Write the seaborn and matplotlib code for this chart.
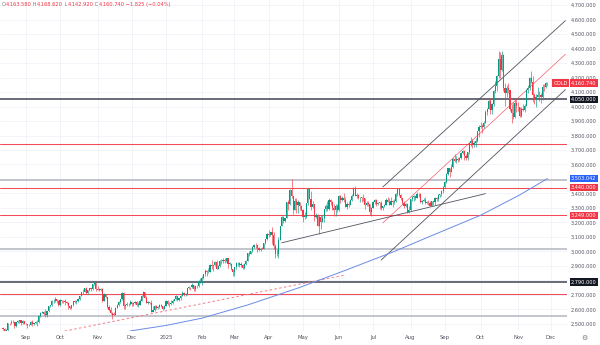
import numpy as np
import pandas as pd
import matplotlib
matplotlib.use("Agg")
import matplotlib.pyplot as plt
import seaborn as sns

# ---------------- data (daily GOLD spot, Aug 13 2024 .. Nov 27 2025) ----------------
first_open = 2472
closes = [
    # Aug 2024
    2465, 2448, 2456, 2508, 2504, 2514, 2512, 2485, 2512, 2518, 2525, 2504, 2521, 2503,
    # Sep 2024
    2500, 2493, 2495, 2516, 2497, 2506, 2516, 2512, 2558, 2578, 2582, 2570, 2559, 2587, 2622, 2628, 2657, 2657, 2672, 2658, 2634,
    # Oct 2024
    2663, 2659, 2656, 2653, 2644, 2622, 2608, 2631, 2657, 2649, 2662, 2674, 2693, 2721, 2720, 2748, 2715, 2736, 2747, 2743, 2774, 2788, 2743,
    # Nov 2024
    2736, 2736, 2743, 2659, 2706, 2685, 2618, 2598, 2573, 2565, 2563, 2612, 2631, 2650, 2670, 2715, 2625, 2633, 2637, 2639, 2650,
    # Dec 2024
    2640, 2643, 2650, 2632, 2633, 2660, 2694, 2718, 2680, 2648, 2652, 2646, 2586, 2594, 2622, 2612, 2617, 2634, 2621, 2606, 2624,
    # Jan 2025
    2658, 2640, 2637, 2648, 2662, 2670, 2690, 2663, 2677, 2696, 2715, 2702, 2708, 2745, 2755, 2754, 2770, 2740, 2763, 2759, 2794, 2798,
    # Feb 2025
    2815, 2842, 2866, 2856, 2861, 2908, 2898, 2904, 2928, 2882, 2898, 2935, 2933, 2939, 2936, 2952, 2915, 2916, 2876, 2858,
    # Mar 2025
    2893, 2918, 2920, 2910, 2910, 2889, 2916, 2934, 2988, 2984, 3001, 3034, 3048, 3044, 3023, 3011, 3020, 3019, 3057, 3085, 3123,
    # Apr 2025
    3113, 3134, 3114, 3037, 2982, 2983, 3082, 3175, 3237, 3211, 3229, 3342, 3327, 3424, 3381, 3288, 3349, 3319, 3343, 3317, 3288,
    # May 2025
    3239, 3240, 3333, 3431, 3365, 3306, 3325, 3236, 3249, 3178, 3240, 3203, 3230, 3290, 3314, 3295, 3357, 3342, 3301, 3288, 3317, 3289,
    # Jun 2025
    3381, 3353, 3372, 3353, 3310, 3325, 3322, 3354, 3386, 3432, 3384, 3388, 3369, 3370, 3368, 3368, 3323, 3332, 3327, 3274, 3303,
    # Jul 2025
    3338, 3357, 3326, 3337, 3336, 3302, 3313, 3324, 3355, 3343, 3324, 3347, 3339, 3350, 3397, 3431, 3387, 3368, 3337, 3314, 3326, 3275, 3289,
    # Aug 2025
    3363, 3373, 3380, 3368, 3397, 3398, 3341, 3348, 3356, 3336, 3336, 3332, 3315, 3348, 3339, 3372, 3365, 3393, 3397, 3416, 3448,
    # Sep 2025
    3476, 3533, 3578, 3545, 3586, 3636, 3625, 3641, 3634, 3643, 3679, 3690, 3659, 3643, 3685, 3746, 3764, 3736, 3749, 3760, 3833, 3858,
    # Oct 2025
    3866, 3857, 3886, 3960, 3985, 4040, 3976, 4018, 4110, 4142, 4208, 4326, 4250, 4356, 4125, 4095, 4126, 4112, 3982, 3952, 3930, 4025, 4002,
    # Nov 2025
    4000, 3932, 3980, 3977, 4001, 4116, 4128, 4195, 4172, 4080, 4045, 4067, 4078, 4078, 4065, 4135, 4132, 4163.58, 4160.74,
]
highs = [
    2480, 2473, 2464, 2510, 2510, 2531, 2525, 2514, 2517, 2525, 2531, 2526, 2528, 2524,
    2507, 2503, 2503, 2523, 2529, 2509, 2519, 2530, 2560, 2582, 2590, 2589, 2600, 2593, 2625, 2633, 2664, 2670, 2685, 2672, 2664,
    2673, 2667, 2668, 2670, 2657, 2651, 2625, 2633, 2662, 2667, 2664, 2677, 2696, 2722, 2740, 2749, 2758, 2737, 2748, 2748, 2776, 2790, 2790,
    2761, 2750, 2750, 2749, 2711, 2709, 2686, 2628, 2618, 2583, 2580, 2614, 2639, 2660, 2674, 2721, 2721, 2640, 2652, 2647, 2665,
    2652, 2651, 2658, 2656, 2651, 2669, 2697, 2726, 2721, 2690, 2661, 2653, 2664, 2626, 2628, 2630, 2622, 2639, 2638, 2624, 2630,
    2664, 2665, 2650, 2665, 2670, 2675, 2698, 2690, 2680, 2697, 2725, 2722, 2711, 2746, 2763, 2758, 2785, 2772, 2764, 2770, 2800, 2817,
    2830, 2845, 2882, 2872, 2886, 2912, 2942, 2908, 2935, 2944, 2906, 2938, 2947, 2955, 2954, 2956, 2951, 2930, 2923, 2882,
    2894, 2928, 2930, 2926, 2930, 2915, 2920, 2940, 2990, 3005, 3003, 3038, 3049, 3057, 3048, 3034, 3023, 3033, 3060, 3087, 3128,
    3149, 3136, 3168, 3136, 3055, 3020, 3099, 3176, 3245, 3245, 3233, 3343, 3358, 3430, 3500, 3386, 3368, 3371, 3353, 3330, 3320,
    3296, 3269, 3334, 3436, 3435, 3414, 3345, 3326, 3265, 3256, 3252, 3253, 3250, 3295, 3325, 3345, 3366, 3365, 3350, 3325, 3330, 3325,
    3392, 3392, 3385, 3403, 3375, 3338, 3349, 3360, 3398, 3446, 3451, 3403, 3395, 3376, 3373, 3398, 3368, 3347, 3350, 3328, 3308,
    3350, 3365, 3365, 3342, 3343, 3345, 3317, 3331, 3368, 3374, 3366, 3377, 3353, 3361, 3402, 3434, 3439, 3397, 3372, 3345, 3334, 3334, 3315,
    3365, 3385, 3390, 3385, 3409, 3400, 3404, 3358, 3369, 3375, 3348, 3358, 3345, 3351, 3351, 3379, 3376, 3394, 3398, 3423, 3454,
    3489, 3540, 3578, 3563, 3600, 3646, 3674, 3657, 3650, 3655, 3686, 3703, 3697, 3670, 3686, 3749, 3791, 3776, 3760, 3782, 3834, 3872,
    3895, 3876, 3897, 3977, 3990, 4059, 4059, 4022, 4116, 4179, 4218, 4380, 4378, 4382, 4359, 4161, 4146, 4161, 4094, 4019, 4030, 4046, 4055,
    4030, 4000, 3995, 4020, 4019, 4124, 4150, 4205, 4245, 4211, 4095, 4083, 4132, 4110, 4096, 4155, 4157, 4170, 4168.62,
]
lows = [
    2458, 2440, 2433, 2455, 2492, 2498, 2506, 2472, 2476, 2505, 2507, 2496, 2500, 2497,
    2493, 2472, 2485, 2491, 2486, 2491, 2500, 2486, 2510, 2551, 2574, 2563, 2546, 2551, 2585, 2614, 2627, 2645, 2653, 2644, 2625,
    2625, 2647, 2642, 2633, 2636, 2606, 2603, 2604, 2627, 2643, 2640, 2654, 2667, 2695, 2704, 2718, 2709, 2709, 2725, 2731, 2735, 2770, 2730,
    2733, 2725, 2725, 2652, 2656, 2676, 2610, 2589, 2566, 2536, 2560, 2563, 2608, 2624, 2643, 2668, 2605, 2605, 2623, 2626, 2633,
    2622, 2624, 2636, 2624, 2614, 2629, 2658, 2689, 2677, 2643, 2637, 2639, 2583, 2583, 2592, 2601, 2606, 2611, 2615, 2597, 2606,
    2622, 2633, 2614, 2630, 2640, 2656, 2666, 2657, 2660, 2668, 2692, 2696, 2695, 2701, 2740, 2733, 2750, 2730, 2731, 2750, 2755, 2780,
    2772, 2812, 2834, 2834, 2853, 2860, 2880, 2864, 2898, 2878, 2880, 2891, 2915, 2919, 2918, 2929, 2889, 2906, 2873, 2833,
    2832, 2882, 2903, 2895, 2896, 2880, 2881, 2904, 2932, 2971, 2983, 2997, 3022, 3024, 2999, 3001, 3004, 3014, 3016, 3054, 3076,
    3100, 3105, 3054, 3015, 2957, 2970, 2956, 3079, 3174, 3195, 3205, 3228, 3284, 3320, 3366, 3261, 3287, 3266, 3268, 3284, 3277,
    3202, 3221, 3229, 3323, 3360, 3287, 3297, 3207, 3228, 3173, 3121, 3154, 3205, 3206, 3281, 3277, 3287, 3322, 3285, 3245, 3245, 3271,
    3280, 3333, 3345, 3339, 3308, 3293, 3309, 3320, 3351, 3380, 3382, 3366, 3362, 3342, 3340, 3348, 3295, 3312, 3312, 3255, 3247,
    3298, 3331, 3311, 3324, 3296, 3287, 3283, 3309, 3322, 3341, 3320, 3319, 3310, 3331, 3344, 3386, 3381, 3352, 3325, 3302, 3309, 3268, 3268,
    3281, 3348, 3350, 3358, 3367, 3378, 3335, 3331, 3347, 3330, 3331, 3323, 3311, 3312, 3324, 3321, 3349, 3351, 3378, 3385, 3405,
    3436, 3471, 3528, 3511, 3546, 3579, 3620, 3611, 3614, 3625, 3637, 3674, 3629, 3628, 3632, 3672, 3728, 3717, 3722, 3723, 3757, 3792,
    3849, 3820, 3855, 3886, 3940, 3984, 3945, 3946, 4006, 4094, 4108, 4197, 4200, 4243, 4105, 4004, 4066, 4090, 3972, 3886, 3916, 3923, 3964,
    3966, 3929, 3930, 3966, 3965, 4001, 4094, 4112, 4162, 4032, 4019, 3998, 4065, 4038, 4023, 4043, 4110, 4127, 4142.92,
]
holidays = ["2024-12-25", "2025-01-01", "2025-04-18", "2025-12-25"]

# 200-day moving average
ma_dates = ["2024-11-29", "2025-01-02", "2025-02-03", "2025-03-13", "2025-04-28", "2025-06-06",
            "2025-07-18", "2025-08-18", "2025-10-01", "2025-11-04", "2025-11-27"]
ma_values = [2452, 2490, 2540, 2631, 2748, 2870, 3000, 3100, 3250, 3390, 3503.042]

# horizontal levels
red_levels = [3740, 3440, 3249, 2710]
dark_levels = [4050, 2790]
grey_levels = [3490, 3015, 2555]

# trend lines: (start date, start price, end date, end price)
support_line = ("2025-04-11", 3060, "2025-10-06", 3399)
channel_upper = ("2025-07-09", 3445, "2025-12-12", 4592)
channel_lower = ("2025-07-08", 2941, "2025-12-12", 4116)
channel_mid = ("2025-07-09", 3197, "2025-12-12", 4360)
dashed_line = ("2024-09-26", 2438, "2025-06-06", 2838)

price_tags = [  # (price, text, colour)
    (4160.74, "4,160.740", "#f23645"),
    (4050, "4,050.000", "#131722"),
    (3503.042, "3,503.042", "#2962ff"),
    (3440, "3,440.000", "#f23645"),
    (3249, "3,249.000", "#f23645"),
    (2790, "2,790.000", "#131722"),
]
header = [("O", "#787b86"), ("4,163.580", "#f23645"), (" H", "#787b86"), ("4,168.620", "#f23645"),
          (" L", "#787b86"), ("4,142.920", "#f23645"), (" C", "#787b86"), ("4,160.740", "#f23645"),
          (" −1.825 (−0.04%)", "#f23645")]
ytick_values = list(range(2500, 4701, 100))

# ---------------- build ----------------
sns.set_theme(style="white")
plt.rcParams["font.family"] = ["DejaVu Sans"]

all_days = pd.bdate_range("2024-08-13", "2025-12-31")
all_days = all_days[~all_days.isin(pd.to_datetime(holidays))]
n = len(closes)
assert len(highs) == n and len(lows) == n, (len(closes), len(highs), len(lows))
dates = all_days[:n]
assert dates[-1] == pd.Timestamp("2025-11-27"), dates[-1]


def xi(d):
    return all_days.get_loc(pd.Timestamp(d))


x = np.arange(n)
c = np.array(closes, dtype=float)
o = np.array([first_open] + closes[:-1], dtype=float)
h = np.maximum(np.array(highs, dtype=float), np.maximum(o, c))
l = np.minimum(np.array(lows, dtype=float), np.minimum(o, c))
UP, DOWN = "#089981", "#f23645"
col = np.where(c >= o, UP, DOWN)

fig = plt.figure(figsize=(6, 3.45), dpi=100)
ax = fig.add_axes([0, 14 / 345, 567 / 600, 331 / 345])
ax.set_xlim(-1.84, 346.0)
ax.set_ylim(2451.7, 4734.5)

# month ticks
month_pos, month_lab = [], []
for per in pd.period_range("2024-09", "2025-12", freq="M"):
    sel = all_days[(all_days.year == per.year) & (all_days.month == per.month)]
    month_pos.append(all_days.get_loc(sel[0]))
    month_lab.append("2025" if (per.year == 2025 and per.month == 1) else per.strftime("%b"))
ax.set_xticks(month_pos)
ax.set_xticklabels(month_lab)
ax.yaxis.tick_right()
ax.set_yticks(ytick_values)
ax.set_yticklabels([f"{v:,.3f}" for v in ytick_values])
ax.tick_params(axis="y", length=0, pad=2.6, labelsize=3.6, labelcolor="#50535e")
ax.tick_params(axis="x", length=0, pad=3.2, labelsize=3.8, labelcolor="#50535e")
ax.grid(True, color="#f0f3fa", lw=0.6)
ax.set_axisbelow(True)
for s in ax.spines.values():
    s.set_visible(False)

# horizontal levels
for lv in grey_levels:
    ax.axhline(lv, color="#b2b5be", lw=1.1, zorder=2)
for lv in dark_levels:
    ax.axhline(lv, color="#5d606b", lw=1.3, zorder=2)
for lv in red_levels:
    ax.axhline(lv, color="#f23645", lw=0.75, alpha=0.9, zorder=2)


def seg(line, **kw):
    d1, p1, d2, p2 = line
    ax.plot([xi(d1), xi(d2)], [p1, p2], **kw)


seg(support_line, color="#50535e", lw=0.6, zorder=2.2)
seg(channel_upper, color="#50535e", lw=0.6, zorder=2.2)
seg(channel_lower, color="#50535e", lw=0.6, zorder=2.2)
seg(channel_mid, color="#f23645", lw=0.5, alpha=0.8, zorder=2.2)
seg(dashed_line, color="#f27a85", lw=0.7, ls=(0, (2.5, 2.5)), zorder=2.2)

# moving average
sns.lineplot(x=[xi(d) for d in ma_dates], y=ma_values, ax=ax, color="#6a8be6", lw=0.7, zorder=2.3)

# candles
ax.vlines(x, l, h, colors=col, lw=0.45, zorder=3)
body = c - o
body = np.where(np.abs(body) < 2.5, 2.5, body)
ax.bar(x, body, bottom=o, width=0.72, color=col, lw=0, zorder=4)

# price tags on the right axis
ytr = ax.get_yaxis_transform()
for p, t, cl in price_tags:
    ax.annotate(t, xy=(1, p), xycoords=ytr, xytext=(2.9, 0), textcoords="offset points",
                ha="left", va="center", fontsize=3.6, color="white", annotation_clip=False,
                bbox=dict(boxstyle="square,pad=0.25", fc=cl, ec="none"), zorder=10)
ax.annotate("GOLD", xy=(1, 4160.74), xycoords=ytr, xytext=(0.5, 0), textcoords="offset points",
            ha="right", va="center", fontsize=3.6, color="white", annotation_clip=False,
            bbox=dict(boxstyle="square,pad=0.25", fc="#f23645", ec="none"), zorder=10)

# header O/H/L/C
last = fig.text(1.5 / 600, 1 - 4.5 / 345, header[0][0], fontsize=3.7, color=header[0][1],
                va="center", ha="left")
for t, cl in header[1:]:
    last = ax.annotate(t, xy=(1, 0.5), xycoords=last, va="center", ha="left",
                       fontsize=3.7, color=cl, annotation_clip=False)

# gear icon
fig.text(584 / 600, 1 - 338 / 345, "⚙", fontsize=5, color="#787b86", ha="center", va="center")

fig.savefig("out.png", dpi=100)
